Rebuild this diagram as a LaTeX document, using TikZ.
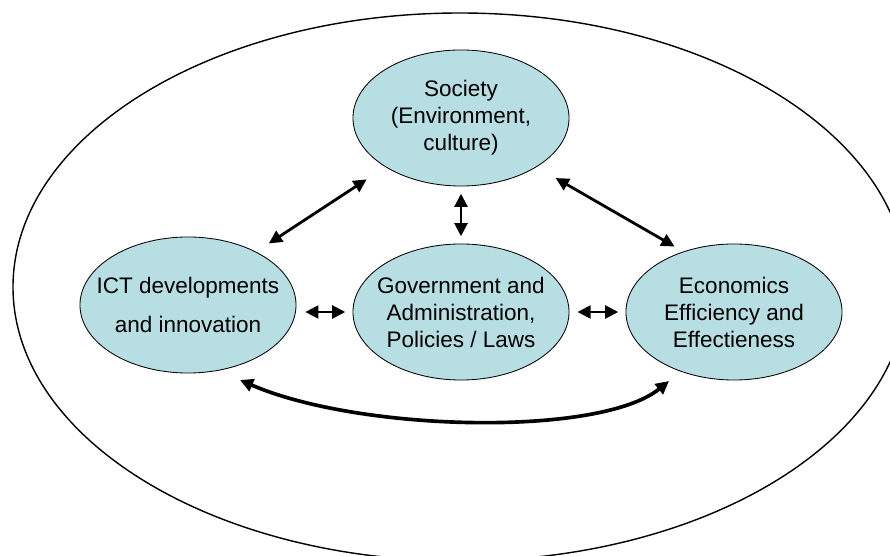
\documentclass[tikz,border=0pt]{standalone}
\usepackage{fontspec}
\setmainfont{Liberation Sans}
\usetikzlibrary{shapes.geometric,arrows.meta}
\definecolor{bubblefill}{RGB}{183,223,227}

\begin{document}
\begin{tikzpicture}[
    x=0.025cm, y=-0.025cm,          % one unit = one pixel, y downwards
    bubble/.style={                 % the small ellipses
        ellipse, draw, line width=0.6pt,
        fill=bubblefill,
        minimum width=5.4cm, minimum height=3.4cm,
        inner sep=0pt
    },
    txt/.style={                    % the text inside
        align=center,
        font=\fontsize{16}{19.2}\selectfont
    },
    link/.style={                   % double headed arrows
        {Triangle[length=3.3mm,width=3.2mm]}-{Triangle[length=3.3mm,width=3.2mm]},
        line width=2pt
    },
 ]
    % ~~~ page and outer ellipse ~~~~~~~~~~~~~~
    \useasboundingbox (0,0) rectangle (890,556);
    \begin{scope}
        \clip (0,0) rectangle (890,556);
        \draw[line width=1pt] (460,287) ellipse [x radius=447, y radius=274];
    \end{scope}
    % ~~~ the four ellipses ~~~~~~~~~~~~~~~~~~~
    \node[bubble] (soc)  at (461,118) {};
    \node[bubble] (ict)  at (188,305) {};
    \node[bubble] (gov)  at (461,312) {};
    \node[bubble] (econ) at (734,312) {};
    \node[txt] (soctxt)  at (soc)  {Society\\(Environment,\\culture)};
    \node[txt] (icttxt)  at (ict)  {ICT developments\\[9pt]and innovation};
    \node[txt] (govtxt)  at (gov)  {Government and\\Administration,\\Policies / Laws};
    \node[txt] (econtxt) at (econ) {Economics\\Efficiency and\\Effectieness};
    % ~~~ arrows ~~~~~~~~~~~~~~~~~~~~~~~~~~~~~~~
    \draw[link, shorten <=0.38cm, shorten >=0.56cm] (ict.38) -- (soc.213);
    \draw[link, shorten <=0.18cm, shorten >=0.18cm] (soc.south) -- (gov.north);
    \draw[link, shorten <=0.55cm, shorten >=0.25cm] (soc.-33) -- (econ.130);
    \draw[link, shorten <=0.22cm, shorten >=0.18cm] (gov.west -| ict.east) -- (gov.west);
    \draw[link, shorten <=0.2cm,  shorten >=0.18cm] (gov.east) -- (econ.west);
    \draw[link, line width=2.6pt]
        ([shift={(52,75)}]ict.center) .. controls +(120,52) and +(-69,56)
        .. ([shift={(-65,69)}]econ.center);
\end{tikzpicture}
\end{document}
